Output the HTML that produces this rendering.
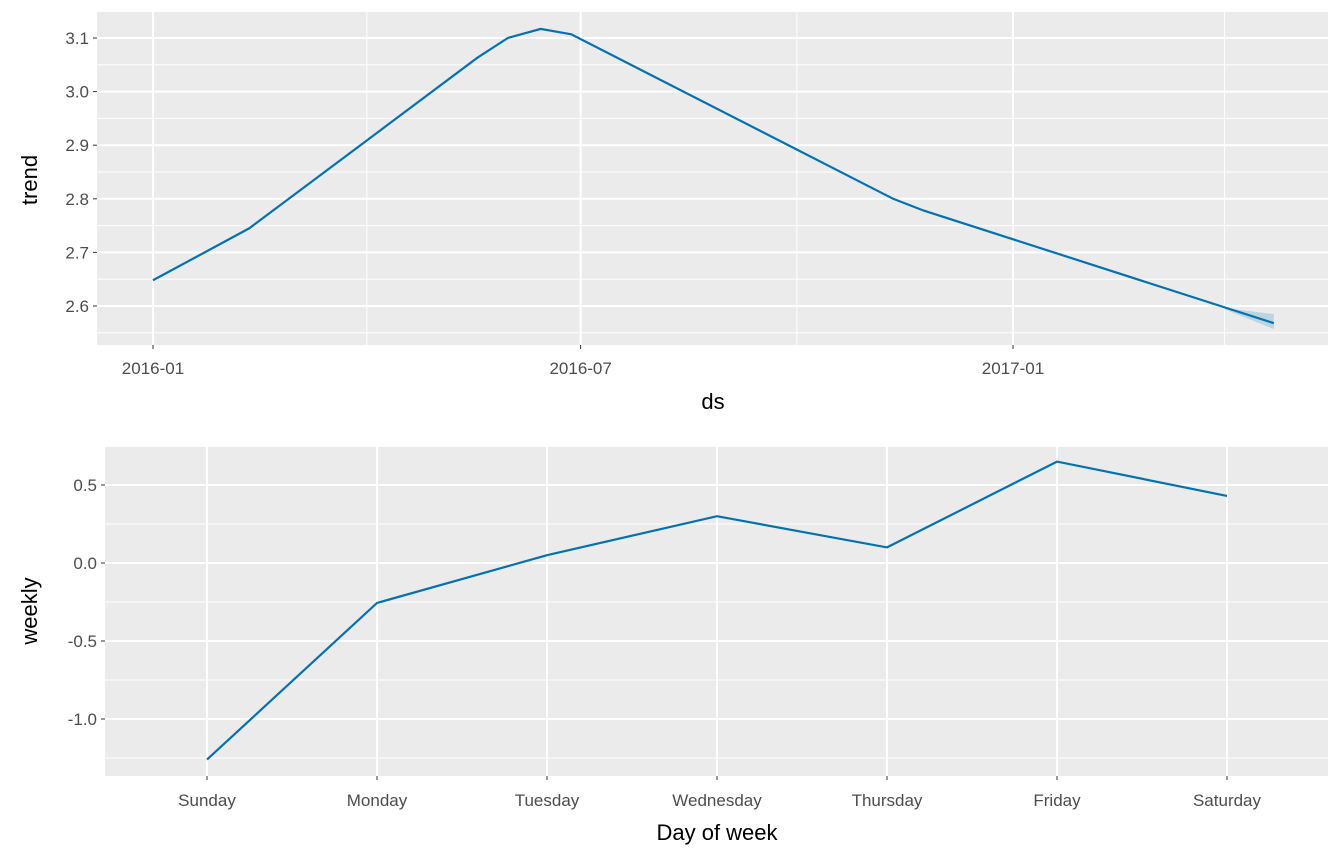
<!DOCTYPE html>
<html><head><meta charset="utf-8"><style>
body{margin:0;background:#fff;}
svg{display:block;font-family:"Liberation Sans",sans-serif;}
.tick{fill:#4d4d4d;font-size:17px;}
.title{fill:#000;font-size:22px;}
</style></head><body>
<svg id="c" width="1344" height="864"></svg>
<script>
const trendDates=["2016-01-01","2016-02-11","2016-05-18","2016-05-31","2016-06-14","2016-06-27","2016-11-11","2016-11-24","2017-04-22"];
const trendValues=[2.648,2.745,3.063,3.100,3.117,3.107,2.800,2.778,2.568];
const bandDates=["2017-04-01","2017-04-22"];
const bandLower=[2.594,2.557];
const bandUpper=[2.596,2.585];
const trendYTicks=[2.6,2.7,2.8,2.9,3.0,3.1];
const trendXTicks=["2016-01","2016-07","2017-01"];
const trendXMinor=["2016-04","2016-10","2017-04"];
const days=["Sunday","Monday","Tuesday","Wednesday","Thursday","Friday","Saturday"];
const weeklyValues=[-1.26,-0.256,0.05,0.30,0.10,0.65,0.43];
const weeklyYTicks=[-1.0,-0.5,0.0,0.5];

const NS="http://www.w3.org/2000/svg";
const svg=document.getElementById('c');
function el(t,a,p){const e=document.createElementNS(NS,t);for(const k in a)e.setAttribute(k,a[k]);(p||svg).appendChild(e);return e;}
function dayNum(s){const p=s.split('-');return Date.UTC(+p[0],+p[1]-1,p[2]?+p[2]:1)/86400000;}

const d0=dayNum("2016-01-01"),d1=dayNum("2017-01-01");
const tx=d=>153+(dayNum(d)-d0)*(1013-153)/(d1-d0);
const ty=v=>306-(v-2.6)*536;
const P1={x:97,y:12,w:1231,h:333};
let r=el('rect',{x:P1.x,y:P1.y,width:P1.w,height:P1.h,fill:'#ebebeb'});

trendYTicks.forEach((v,i)=>{
  if(i<trendYTicks.length-1){const m=ty(v+0.05);el('line',{x1:P1.x,x2:P1.x+P1.w,y1:m,y2:m,stroke:'#fff','stroke-width':1});}
});
el('line',{x1:P1.x,x2:P1.x+P1.w,y1:ty(2.55),y2:ty(2.55),stroke:'#fff','stroke-width':1});
trendXMinor.forEach(d=>{const x=tx(d);el('line',{x1:x,x2:x,y1:P1.y,y2:P1.y+P1.h,stroke:'#fff','stroke-width':1});});
trendYTicks.forEach(v=>{
  const y=ty(v);
  el('line',{x1:P1.x,x2:P1.x+P1.w,y1:y,y2:y,stroke:'#fff','stroke-width':2});
  el('line',{x1:P1.x-4,x2:P1.x,y1:y,y2:y,stroke:'#333','stroke-width':1});
  const t=el('text',{x:P1.x-8,y:y+6,'text-anchor':'end',class:'tick'});t.textContent=v.toFixed(1);
  
});
trendXTicks.forEach(d=>{
  const x=tx(d);
  el('line',{x1:x,x2:x,y1:P1.y,y2:P1.y+P1.h,stroke:'#fff','stroke-width':2});
  el('line',{x1:x,x2:x,y1:P1.y+P1.h,y2:P1.y+P1.h+4,stroke:'#333'});
  const t=el('text',{x:x,y:374,'text-anchor':'middle',class:'tick'});t.textContent=d;
  
});
let bp=bandDates.map((d,i)=>tx(d)+','+ty(bandUpper[i])).concat(bandDates.slice().reverse().map((d,i)=>tx(d)+','+ty(bandLower[bandDates.length-1-i])));
const band=el('polygon',{points:bp.join(' '),fill:'#0072B2','fill-opacity':0.2});

const tl=el('polyline',{points:trendDates.map((d,i)=>tx(d)+','+ty(trendValues[i])).join(' '),fill:'none',stroke:'#0072B2','stroke-width':2.2});

let t1=el('text',{x:713,y:409,'text-anchor':'middle',class:'title'});t1.textContent='ds';

let t2=el('text',{x:0,y:0,'text-anchor':'middle',class:'title',transform:'translate(37,180) rotate(-90)'});t2.textContent='trend';


const P2={x:105,y:447,w:1223,h:329};
const wx=i=>207+i*170;
const wy=v=>563-v*156;
r=el('rect',{x:P2.x,y:P2.y,width:P2.w,height:P2.h,fill:'#ebebeb'});

[-1.25,-0.75,-0.25,0.25,0.75].forEach(v=>{const y=wy(v);if(y>P2.y&&y<P2.y+P2.h)el('line',{x1:P2.x,x2:P2.x+P2.w,y1:y,y2:y,stroke:'#fff','stroke-width':1});});
weeklyYTicks.forEach(v=>{
  const y=wy(v);
  el('line',{x1:P2.x,x2:P2.x+P2.w,y1:y,y2:y,stroke:'#fff','stroke-width':2});
  el('line',{x1:P2.x-4,x2:P2.x,y1:y,y2:y,stroke:'#333'});
  const t=el('text',{x:P2.x-8,y:y+6,'text-anchor':'end',class:'tick'});t.textContent=v.toFixed(1);
  
});
days.forEach((d,i)=>{
  const x=wx(i);
  el('line',{x1:x,x2:x,y1:P2.y,y2:P2.y+P2.h,stroke:'#fff','stroke-width':2});
  el('line',{x1:x,x2:x,y1:P2.y+P2.h,y2:P2.y+P2.h+4,stroke:'#333'});
  const t=el('text',{x:x,y:806,'text-anchor':'middle',class:'tick'});t.textContent=d;
  
});
const wl=el('polyline',{points:weeklyValues.map((v,i)=>wx(i)+','+wy(v)).join(' '),fill:'none',stroke:'#0072B2','stroke-width':2.2});

let t3=el('text',{x:717,y:840,'text-anchor':'middle',class:'title'});t3.textContent='Day of week';

let t4=el('text',{x:0,y:0,'text-anchor':'middle',class:'title',transform:'translate(37,611) rotate(-90)'});t4.textContent='weekly';

</script>
</body></html>
